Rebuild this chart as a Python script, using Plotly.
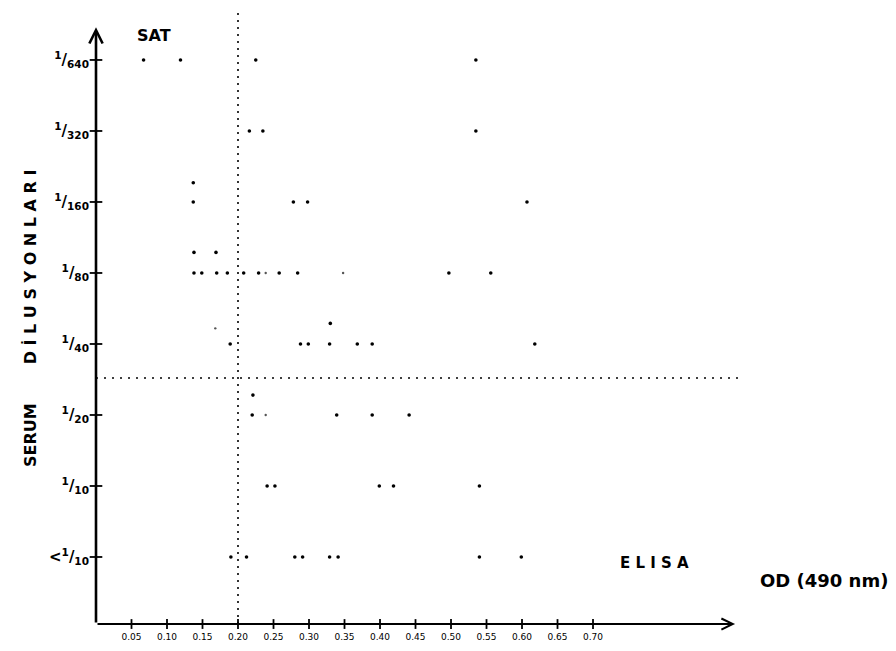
import plotly.graph_objects as go

# ---- data ----
dilution_index = [0, 1, 2, 3, 4, 5, 6, 7]
dilution_ticktext = [
    "<b>&lt;<sup>1</sup>/<sub>10</sub></b>",
    "<b><sup>1</sup>/<sub>10</sub></b>",
    "<b><sup>1</sup>/<sub>20</sub></b>",
    "<b><sup>1</sup>/<sub>40</sub></b>",
    "<b><sup>1</sup>/<sub>80</sub></b>",
    "<b><sup>1</sup>/<sub>160</sub></b>",
    "<b><sup>1</sup>/<sub>320</sub></b>",
    "<b><sup>1</sup>/<sub>640</sub></b>",
]
od_tickvals = [0.05, 0.10, 0.15, 0.20, 0.25, 0.30, 0.35, 0.40, 0.45, 0.50, 0.55, 0.60, 0.65, 0.70]
od_ticktext = ["0.05", "0.10", "0.15", "0.20", "0.25", "0.30", "0.35", "0.40", "0.45",
               "0.50", "0.55", "0.60", "0.65", "0.70"]

od_lt10 = [0.190, 0.212, 0.280, 0.291, 0.329, 0.341, 0.540, 0.599]
od_10 = [0.241, 0.252, 0.399, 0.419, 0.540]
od_20 = [0.220, 0.339, 0.389, 0.441]
od_40 = [0.189, 0.288, 0.299, 0.329, 0.368, 0.389, 0.618]
od_80 = [0.138, 0.149, 0.170, 0.185, 0.208, 0.229, 0.258, 0.284, 0.497, 0.556]
od_160 = [0.137, 0.278, 0.298, 0.607]
od_320 = [0.216, 0.235, 0.535]
od_640 = [0.067, 0.119, 0.225, 0.535]

# duplicate results drawn just above their row
od_raised = [0.137, 0.138, 0.169, 0.330, 0.221]
idx_raised = [5.27, 4.29, 4.29, 3.29, 2.28]

# faint specks
od_faint = [0.239, 0.348, 0.168, 0.239]
idx_faint = [4.0, 4.0, 3.22, 2.0]

od_cutoff = 0.20
sat_cutoff = 2.52
x_axis_end = 0.90
y_axis_end = 7.46
axis_y = -0.944

rows = [od_lt10, od_10, od_20, od_40, od_80, od_160, od_320, od_640]

# ---- figure ----
fig = go.Figure()

xs, ys = [], []
for i, r in zip(dilution_index, rows):
    xs += r
    ys += [i] * len(r)
xs += od_raised
ys += idx_raised

# cutoff lines
fig.add_trace(go.Scatter(x=[od_cutoff, od_cutoff], y=[axis_y, 7.75], mode="lines",
                         line=dict(color="black", width=1.6, dash="2px,5px"),
                         hoverinfo="skip", showlegend=False))
fig.add_trace(go.Scatter(x=[0, x_axis_end + 0.01], y=[sat_cutoff, sat_cutoff], mode="lines",
                         line=dict(color="black", width=1.6, dash="2px,6px"),
                         hoverinfo="skip", showlegend=False))

# tick crosses on the axes
fig.add_trace(go.Scatter(x=od_tickvals, y=[axis_y] * len(od_tickvals), mode="markers",
                         marker=dict(symbol="line-ns", size=7, line=dict(color="black", width=1.8)),
                         hoverinfo="skip", showlegend=False))
fig.add_trace(go.Scatter(x=[0] * len(dilution_index), y=dilution_index, mode="markers",
                         marker=dict(symbol="line-ew", size=9, line=dict(color="black", width=1.8)),
                         hoverinfo="skip", showlegend=False))

fig.add_trace(go.Scatter(x=xs, y=ys, mode="markers",
                         marker=dict(color="black", size=3.6),
                         showlegend=False))
fig.add_trace(go.Scatter(x=od_faint, y=idx_faint, mode="markers",
                         marker=dict(color="#555", size=2.4),
                         showlegend=False))

# axes with arrows
fig.add_annotation(x=x_axis_end, y=axis_y, ax=0, ay=axis_y, xref="x", yref="y",
                   axref="x", ayref="y", showarrow=True, arrowhead=5, arrowsize=1,
                   arrowwidth=2.2, arrowcolor="black", text="", standoff=0, startstandoff=0)
fig.add_annotation(x=0, y=y_axis_end, ax=0, ay=axis_y, xref="x", yref="y",
                   axref="x", ayref="y", showarrow=True, arrowhead=5, arrowsize=1,
                   arrowwidth=2.6, arrowcolor="black", text="", standoff=0, startstandoff=0)

bold = dict(family="DejaVu Sans", color="black")
fig.add_annotation(x=0.0817, y=7.35, xref="x", yref="y", text="<b>SAT</b>", showarrow=False,
                   font=dict(size=16, **bold))
fig.add_annotation(x=0.787, y=-0.085, xref="x", yref="y", text="<b>E L I S A</b>", showarrow=False,
                   font=dict(size=15, **bold))
fig.add_annotation(x=1.025, y=-0.324, xref="x", yref="y", text="<b>OD (490 nm)</b>", showarrow=False,
                   font=dict(size=18, **bold))
fig.add_annotation(x=-0.0766, y=3.36, xref="paper", yref="y",
                   text="<b>SERUM       D İ L U S Y O N L A R I</b>",
                   textangle=-90, showarrow=False, font=dict(size=16, **bold))

fig.update_layout(
    width=896, height=651,
    margin=dict(l=74, r=0, t=0, b=23),
    paper_bgcolor="white", plot_bgcolor="white",
    xaxis=dict(range=[-0.01972, 1.1380], showgrid=False, zeroline=False, showline=False,
               tickvals=od_tickvals, ticktext=od_ticktext, ticks="outside", ticklen=4,
               tickcolor="rgba(0,0,0,0)", anchor="free", position=0.01911,
               tickfont=dict(family="DejaVu Sans", size=9, color="black")),
    yaxis=dict(range=[-1.1127, 7.732], showgrid=False, zeroline=False, showline=False,
               tickvals=dilution_index, ticktext=dilution_ticktext, ticks="outside", ticklen=4,
               tickcolor="rgba(0,0,0,0)",
               anchor="free", position=0.01703,
               tickfont=dict(family="DejaVu Sans", size=15, color="black")),
)

fig.write_html("out.html")
